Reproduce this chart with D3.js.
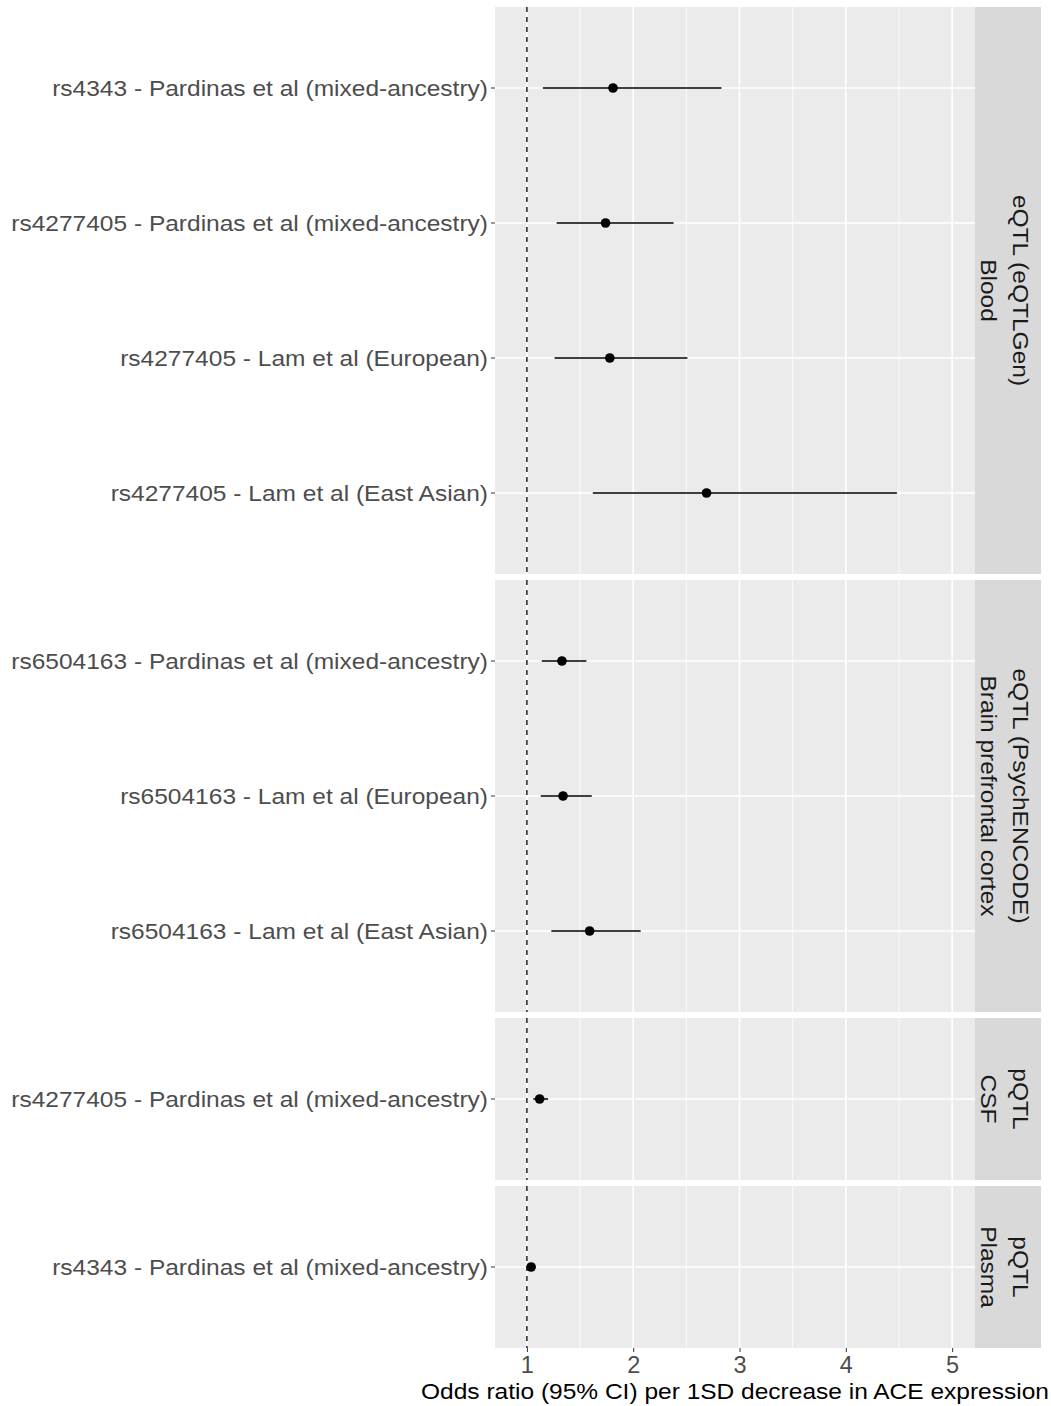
<!DOCTYPE html>
<html>
<head>
<meta charset="utf-8">
<script src="https://cdn.jsdelivr.net/npm/d3@7"></script>
<style>
  body { margin: 0; background: #fff; }
  svg text { font-family: "Liberation Sans", Arial, sans-serif; }
</style>
</head>
<body>
<div id="chart"></div>
<script>
// facet groups (top to bottom) and their strip labels
const facets = ["blood", "brain", "csf", "plasma"];
const facetLabels = [
    ["eQTL (eQTLGen)", "Blood"],
    ["eQTL (PsychENCODE)", "Brain prefrontal cortex"],
    ["pQTL", "CSF"],
    ["pQTL", "Plasma"]
];

const labels = [
    "rs4343 - Pardinas et al (mixed-ancestry)",
    "rs4277405 - Pardinas et al (mixed-ancestry)",
    "rs4277405 - Lam et al (European)",
    "rs4277405 - Lam et al (East Asian)",
    "rs6504163 - Pardinas et al (mixed-ancestry)",
    "rs6504163 - Lam et al (European)",
    "rs6504163 - Lam et al (East Asian)",
    "rs4277405 - Pardinas et al (mixed-ancestry)",
    "rs4343 - Pardinas et al (mixed-ancestry)"
];
const facetOf = ["blood", "blood", "blood", "blood", "brain", "brain", "brain", "csf", "plasma"];
const oddsRatio = [1.81, 1.74, 1.78, 2.69, 1.33, 1.34, 1.59, 1.12, 1.04];
const lowerCI   = [1.15, 1.28, 1.26, 1.62, 1.14, 1.13, 1.23, 1.06, 1.02];
const upperCI   = [2.83, 2.38, 2.51, 4.48, 1.56, 1.61, 2.07, 1.20, 1.06];

const xTicks = [1, 2, 3, 4, 5];
const xMinor = [1.5, 2.5, 3.5, 4.5];
const xTitle = "Odds ratio (95% CI) per 1SD decrease in ACE expression";

const width = 1051, height = 1406;
const panelLeft = 495, panelRight = 975, stripWidth = 66;
const panelTop = 7, gap = 6, rowStep = 135;
const fontSize = 22.5, stretch = 1.09;  // the source font runs a bit wider than Liberation Sans

const svg = d3.select("#chart").append("svg")
    .attr("width", width)
    .attr("height", height);

const x = d3.scaleLinear()
    .domain([0.7, 5.215])
    .range([panelLeft, panelRight]);

const rows = labels.map((lab, i) => ({
    label: lab, facet: facetOf[i], or: oddsRatio[i], lo: lowerCI[i], hi: upperCI[i]
}));

let yOffset = panelTop;
facets.forEach((f, fi) => {
    const data = rows.filter(d => d.facet === f);
    const n = data.length;
    const panelH = (n - 1 + 1.2) * rowStep;

    // discrete scale with ggplot's 0.6 expansion
    const y = d3.scalePoint()
        .domain(d3.range(n))
        .range([yOffset + 0.6 * rowStep, yOffset + panelH - 0.6 * rowStep]);
    if (n === 1) y.range([yOffset + panelH / 2, yOffset + panelH / 2]);

    const g = svg.append("g").attr("class", "panel");
    g.append("rect")
        .attr("x", panelLeft).attr("y", yOffset)
        .attr("width", panelRight - panelLeft).attr("height", panelH)
        .attr("fill", "#EBEBEB");

    g.selectAll(".minor").data(xMinor).join("line")
        .attr("x1", d => x(d)).attr("x2", d => x(d))
        .attr("y1", yOffset).attr("y2", yOffset + panelH)
        .attr("stroke", "#fff").attr("stroke-width", 0.8);
    g.selectAll(".major").data(xTicks).join("line")
        .attr("x1", d => x(d)).attr("x2", d => x(d))
        .attr("y1", yOffset).attr("y2", yOffset + panelH)
        .attr("stroke", "#fff").attr("stroke-width", 1.6);
    g.selectAll(".hgrid").data(data).join("line")
        .attr("x1", panelLeft).attr("x2", panelRight)
        .attr("y1", (d, i) => y(i)).attr("y2", (d, i) => y(i))
        .attr("stroke", "#fff").attr("stroke-width", 1.6);

    // reference line at OR = 1
    g.append("line")
        .attr("x1", x(1)).attr("x2", x(1))
        .attr("y1", yOffset).attr("y2", yOffset + panelH)
        .attr("stroke", "#222").attr("stroke-width", 1.5)
        .attr("stroke-dasharray", "5,5");

    // confidence intervals and points
    g.selectAll(".ci").data(data).join("line")
        .attr("x1", d => x(d.lo)).attr("x2", d => x(d.hi))
        .attr("y1", (d, i) => y(i)).attr("y2", (d, i) => y(i))
        .attr("stroke", "#000").attr("stroke-width", 1.5);
    g.selectAll(".pt").data(data).join("circle")
        .attr("cx", d => x(d.or)).attr("cy", (d, i) => y(i))
        .attr("r", 4.8).attr("fill", "#000");

    // y axis labels + ticks
    g.selectAll(".tick").data(data).join("line")
        .attr("x1", panelLeft - 4).attr("x2", panelLeft)
        .attr("y1", (d, i) => y(i)).attr("y2", (d, i) => y(i))
        .attr("stroke", "#333").attr("stroke-width", 1);
    g.selectAll(".ylab").data(data).join("text")
        .attr("transform", (d, i) => `translate(${panelLeft - 7},${y(i)}) scale(${stretch},1)`)
        .attr("dy", "0.35em")
        .attr("text-anchor", "end")
        .attr("font-size", fontSize)
        .attr("fill", "#4D4D4D")
        .text(d => d.label);

    // strip
    const sx = panelRight, cy = yOffset + panelH / 2;
    g.append("rect")
        .attr("x", sx).attr("y", yOffset)
        .attr("width", stripWidth).attr("height", panelH)
        .attr("fill", "#D9D9D9");
    const st = g.append("text")
        .attr("transform", `translate(${sx + stripWidth / 2},${cy}) rotate(90) scale(${stretch},1)`)
        .attr("text-anchor", "middle")
        .attr("font-size", fontSize)
        .attr("fill", "#1A1A1A");
    facetLabels[fi].forEach((line, li) => {
        st.append("tspan")
            .attr("x", 0)
            .attr("y", -5.3 + li * 32.6)
            .text(line);
    });

    yOffset += panelH + gap;
});

const axisY = yOffset - gap;
const xAxis = svg.append("g")
    .attr("transform", `translate(0,${axisY})`)
    .call(d3.axisBottom(x).tickValues(xTicks).tickSize(4).tickPadding(4.5).tickFormat(d3.format("d")));
xAxis.select(".domain").remove();
xAxis.selectAll(".tick line").attr("stroke", "#333");
xAxis.selectAll(".tick text")
    .attr("font-size", 23.5)
    .attr("fill", "#4D4D4D")
    .style("font-family", "'Liberation Sans', Arial, sans-serif");

svg.append("text")
    .attr("transform", `translate(${(panelLeft + panelRight) / 2},${axisY + 51}) scale(${stretch},1)`)
    .attr("text-anchor", "middle")
    .attr("font-size", fontSize)
    .attr("fill", "#000")
    .text(xTitle);
</script>
</body>
</html>
